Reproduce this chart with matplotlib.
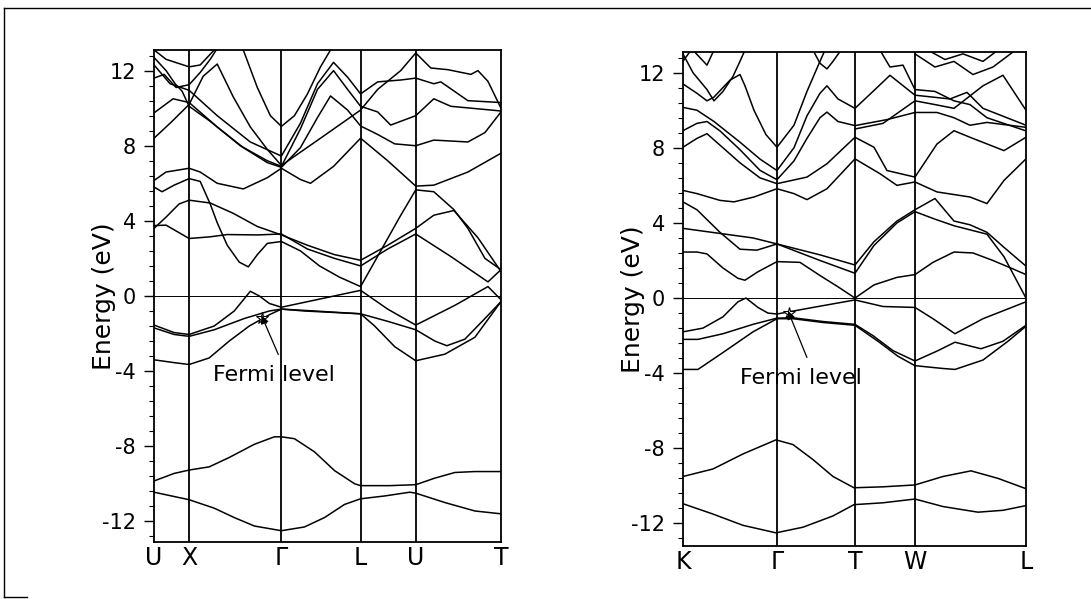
import matplotlib
matplotlib.use('Agg')
from matplotlib import pyplot as plt
from matplotlib.ticker import AutoMinorLocator
from matplotlib.lines import Line2D

plt.rcParams['font.family'] = 'DejaVu Sans'
plt.rcParams['axes.unicode_minus'] = False

# ---- left panel: path U-X-G-L-U-T (k = distance along path)
left_labels = ['U', 'X', 'Γ', 'L', 'U', 'T']
left_kpts = [0, 35, 127, 206, 261, 346]

left_core = [
    [(0, -10.45), (35, -10.85), (60, -11.3), (80, -11.8), (100, -12.25), (127, -12.5), (150, -12.3),
     (170, -11.8), (190, -11.1), (206, -10.8), (230, -10.65), (255, -10.45), (261, -10.5), (290, -11.0),
     (320, -11.45), (346, -11.6)],
    [(0, -9.85), (20, -9.45), (35, -9.27), (55, -9.1), (75, -8.6), (100, -7.9), (120, -7.5), (127, -7.5),
     (140, -7.6), (160, -8.3), (180, -9.3), (200, -10.0), (206, -10.1), (235, -10.1), (261, -10.05),
     (280, -9.7), (300, -9.4), (320, -9.35), (346, -9.35)],
]

left_valence = [
    [(0, -3.4), (20, -3.55), (35, -3.65), (55, -3.3), (75, -2.4), (95, -1.6), (115, -1.0), (127, -0.7),
     (150, -0.8), (180, -0.88), (206, -0.95), (220, -1.6), (240, -2.7), (261, -3.45), (290, -3.1),
     (320, -2.2), (346, -0.3)],
    [(0, -1.55), (20, -1.95), (35, -2.05), (60, -1.6), (80, -0.8), (96, 0.25), (105, 0.0), (115, -0.4),
     (127, -0.6), (206, 0.3), (233, -0.7), (261, -1.55), (300, -0.5), (333, 0.5), (346, -0.2)],
    [(0, -1.7), (20, -2.05), (35, -2.15), (60, -1.8), (90, -1.2), (115, -0.8), (127, -0.7), (160, -0.8),
     (206, -0.95), (233, -1.35), (261, -1.8), (280, -2.4), (292, -2.65), (310, -2.3), (330, -1.2), (346, -0.3)],
]

left_cond = [
    [(0, 5.8), (8, 5.55), (20, 5.9), (35, 6.25), (46, 6.1), (56, 4.9), (63, 3.9), (73, 2.7), (85, 1.8),
     (94, 1.55), (103, 2.2), (113, 2.8), (127, 2.9), (146, 2.4), (165, 1.6), (185, 1.0), (206, 0.5),
     (225, 2.3), (245, 4.2), (261, 5.65), (279, 5.55), (299, 4.6), (313, 3.6), (330, 2.0), (346, 1.4)],
    [(0, 3.6), (12, 4.2), (25, 4.9), (35, 5.1), (56, 4.95), (79, 4.4), (103, 3.7), (127, 3.25), (153, 2.7),
     (180, 2.2), (206, 1.9), (233, 2.7), (261, 3.6), (279, 4.3), (299, 4.55), (323, 3.1), (346, 1.3)],
    [(0, 3.75), (12, 3.77), (35, 3.06), (56, 3.15), (73, 3.27), (103, 3.25), (127, 3.3), (153, 2.5),
     (180, 2.0), (206, 1.6), (233, 2.5), (261, 3.3), (296, 2.1), (333, 0.75), (346, 1.4)],
    [(0, 6.15), (12, 6.6), (35, 6.8), (46, 6.6), (63, 6.0), (89, 5.7), (113, 6.3), (127, 6.8), (146, 6.2),
     (156, 6.0), (179, 6.9), (206, 8.4), (233, 7.2), (261, 5.85), (279, 5.9), (313, 6.6), (346, 7.6)],
    [(0, 8.4), (18, 9.3), (35, 10.2), (49, 11.7), (63, 12.35), (79, 10.6), (96, 9.0), (113, 7.8),
     (127, 6.95), (166, 8.4), (206, 9.9), (223, 11.0), (246, 12.0), (261, 12.94), (276, 12.14),
     (293, 12.05), (316, 11.8), (323, 12.0), (333, 11.43), (346, 10.0)],
    [(0, 9.75), (19, 10.5), (35, 10.3), (63, 9.0), (89, 7.9), (113, 7.1), (127, 6.85), (146, 7.9),
     (163, 9.5), (176, 10.65), (193, 9.9), (206, 9.05), (223, 8.6), (240, 8.1), (261, 8.0), (279, 8.3),
     (313, 8.2), (330, 8.7), (346, 9.8)],
    [(0, 12.3), (16, 11.3), (35, 10.95), (63, 9.6), (96, 8.2), (127, 7.45), (146, 9.2), (163, 11.3),
     (179, 12.44), (193, 11.65), (206, 10.76), (223, 11.4), (246, 11.5), (261, 11.6), (279, 11.3),
     (286, 11.4), (313, 10.4), (346, 10.3)],
    [(89, 13.1), (103, 11.1), (116, 9.6), (127, 9.03), (140, 9.6), (153, 10.76), (166, 12.2), (176, 13.1)],
    [(0, 12.7), (12, 12.0), (21, 11.3), (28, 10.9), (35, 10.1), (56, 9.3), (86, 8.0), (113, 7.2),
     (127, 6.9), (146, 8.9), (163, 11.0), (179, 12.0), (193, 11.0), (206, 10.1), (223, 9.8), (236, 9.1),
     (261, 9.6), (279, 10.5), (296, 10.1), (346, 9.85)],
    [(0, 13.1), (12, 12.6), (35, 12.2), (46, 12.3), (60, 13.1)],
    [(0, 11.6), (10, 11.8), (22, 11.1), (35, 11.25), (46, 11.9), (56, 12.6), (62, 13.1)],
]

# ---- right panel: path K-G-T-W-L
right_labels = ['K', 'Γ', 'T', 'W', 'L']
right_kpts = [0, 94, 172, 232, 343]

right_core = [
    [(0, -10.95), (30, -11.5), (60, -12.1), (93, -12.5), (120, -12.2), (150, -11.6), (171, -11.0),
     (200, -10.9), (232, -10.7), (260, -11.1), (295, -11.4), (320, -11.3), (343, -11.05)],
    [(0, -9.5), (30, -9.1), (60, -8.3), (93, -7.55), (110, -7.8), (130, -8.6), (150, -9.5), (171, -10.1),
     (200, -10.05), (232, -9.95), (260, -9.5), (288, -9.2), (315, -9.6), (343, -10.15)],
]

right_valence = [
    [(0, -1.8), (20, -1.6), (40, -1.0), (55, -0.2), (63, 0.0), (75, -0.5), (85, -0.8), (94, -0.85),
     (130, -0.5), (172, -0.1), (200, -0.45), (232, -0.5), (250, -1.1), (272, -1.9), (300, -1.1), (343, -0.2)],
    [(0, -2.2), (15, -2.2), (40, -1.9), (70, -1.4), (94, -1.07), (110, -1.05), (140, -1.25), (172, -1.4),
     (190, -2.0), (210, -2.8), (232, -3.35), (255, -2.8), (272, -2.35), (298, -2.7), (320, -2.3), (343, -1.45)],
    [(0, -3.8), (15, -3.8), (40, -2.9), (70, -1.8), (94, -1.1), (110, -1.1), (140, -1.3), (172, -1.45),
     (195, -2.3), (215, -3.1), (232, -3.6), (260, -3.75), (272, -3.8), (300, -3.3), (325, -2.3), (343, -1.5)],
]

right_cond = [
    [(0, 2.45), (14, 2.45), (24, 2.35), (40, 1.6), (55, 1.05), (62, 0.95), (75, 1.4), (94, 1.94),
     (117, 1.9), (137, 1.2), (155, 0.6), (172, 0.0), (191, 0.7), (214, 1.1), (232, 1.25), (250, 1.9),
     (271, 2.45), (290, 2.4), (310, 2.0), (330, 1.55), (343, 1.25)],
    [(0, 3.71), (37, 3.44), (70, 3.2), (94, 2.88), (137, 2.3), (172, 1.76), (191, 3.0), (214, 4.1),
     (232, 4.7), (252, 5.3), (271, 4.1), (287, 3.9), (304, 3.5), (321, 2.7), (343, 1.7)],
    [(0, 5.12), (14, 4.7), (37, 3.5), (57, 2.6), (74, 2.55), (94, 2.88), (137, 2.0), (172, 1.32),
     (191, 2.8), (214, 4.0), (232, 4.6), (252, 4.2), (271, 3.85), (304, 3.4), (321, 2.2), (343, 0.0)],
    [(0, 5.73), (14, 5.56), (37, 5.2), (51, 5.12), (71, 5.38), (94, 5.82), (111, 5.56), (124, 5.24),
     (144, 5.82), (172, 7.41), (197, 6.62), (214, 6.0), (232, 6.18), (254, 5.65), (287, 5.38),
     (304, 5.03), (321, 6.26), (343, 7.41)],
    [(0, 8.03), (14, 8.5), (24, 8.75), (40, 8.0), (57, 7.2), (77, 6.4), (94, 6.09), (124, 6.44),
     (144, 7.15), (172, 8.56), (191, 8.03), (204, 6.79), (232, 6.44), (254, 8.2), (271, 8.91),
     (287, 8.56), (321, 7.85), (343, 8.56)],
    [(0, 8.91), (14, 9.3), (24, 9.4), (37, 8.9), (57, 7.9), (77, 6.8), (94, 6.3), (111, 7.3), (124, 8.5),
     (137, 9.6), (144, 9.9), (155, 9.4), (172, 9.18), (204, 9.5), (232, 9.88), (254, 9.88), (271, 9.6),
     (287, 9.2), (304, 9.35), (343, 9.09)],
    [(0, 10.15), (14, 10.0), (31, 9.4), (57, 8.3), (77, 7.4), (94, 6.79), (111, 8.0), (124, 9.7),
     (137, 10.9), (144, 11.3), (155, 10.6), (172, 10.1), (190, 11.0), (207, 11.86), (232, 10.8),
     (267, 10.6), (284, 10.95), (300, 10.1), (343, 9.2)],
    [(0, 11.4), (14, 10.9), (24, 10.5), (31, 10.7), (47, 11.6), (57, 11.9), (62, 11.3), (71, 10.0),
     (83, 8.7), (94, 8.03), (111, 9.2), (124, 11.0), (137, 12.6), (142, 13.2)],
    [(0, 13.0), (10, 12.0), (24, 11.1), (31, 10.5), (40, 11.0), (50, 11.8), (57, 12.6), (62, 13.2)],
    [(0, 12.6), (8, 13.2)],
    [(10, 13.2), (24, 12.4), (31, 13.2)],
    [(130, 13.2), (137, 12.5), (144, 12.2), (150, 12.6), (158, 13.2)],
    [(172, 9.0), (200, 9.3), (232, 10.5), (252, 10.3), (271, 10.1), (300, 11.3), (320, 11.86), (343, 10.0)],
    [(197, 13.2), (207, 12.3), (220, 12.4), (232, 11.1), (252, 11.0), (271, 10.5), (287, 10.3),
     (304, 9.6), (343, 8.9)],
    [(232, 13.0), (252, 12.3), (271, 12.6), (290, 11.9), (310, 12.3), (330, 13.1)],
    [(245, 13.2), (262, 12.7), (280, 13.0), (300, 12.6), (315, 13.2)],
]


def draw_panel(ax, kpts, labels, bands, ylim, txt_xy, arrow_tail, arrow_head):
    for band in bands:
        ks = [p[0] for p in band]
        es = [p[1] for p in band]
        ax.plot(ks, es, color='black', lw=1.1)
    for k in kpts[1:-1]:
        ax.axvline(k, color='black', lw=1.3)
    ax.axhline(0, color='black', lw=0.7)
    ax.set_xlim(kpts[0], kpts[-1])
    ax.set_ylim(*ylim)
    ax.set_xticks(kpts)
    ax.set_xticklabels(labels, fontsize=17)
    ax.tick_params(axis='x', length=0, pad=3)
    ax.set_yticks([-12, -8, -4, 0, 4, 8, 12])
    ax.set_yticklabels(['-12', '-8', '-4', '0', '4', '8', '12'], fontsize=15)
    ax.yaxis.set_minor_locator(AutoMinorLocator(5))
    ax.tick_params(axis='y', which='major', direction='out', length=7, width=1.0, pad=6)
    ax.tick_params(axis='y', which='minor', direction='out', length=3.5, width=0.8)
    for s in ax.spines.values():
        s.set_linewidth(1.3)
    ax.set_ylabel('Energy (eV)', fontsize=18)
    ax.yaxis.set_label_coords(-0.11, 0.5)
    ax.annotate('', xy=arrow_head, xytext=arrow_tail,
                arrowprops=dict(arrowstyle='-|>', color='black', lw=0.9, mutation_scale=12))
    ax.plot([arrow_head[0] + 2], [arrow_head[1] - 0.25], marker='*', ms=9,
            markerfacecolor='white', markeredgecolor='black', mew=0.8)
    ax.text(txt_xy[0], txt_xy[1], 'Fermi level', fontsize=16, va='center', ha='left')


fig = plt.figure(figsize=(10.91, 5.99), dpi=100)
ax1 = fig.add_axes([0.1412, 0.0952, 0.318, 0.8214])
ax2 = fig.add_axes([0.626, 0.0885, 0.3144, 0.8247])

draw_panel(ax1, left_kpts, left_labels, left_core + left_valence + left_cond,
           (-13.1, 13.1), (59, -4.2), (125, -3.25), (106, -0.9))
draw_panel(ax2, right_kpts, right_labels, right_core + right_valence + right_cond,
           (-13.2, 13.1), (57, -4.25), (125, -3.3), (104, -0.55))

# outer frame of the scanned page
fig.add_artist(Line2D([0.004, 0.004], [0.003, 0.987], color='black', lw=1.0))
fig.add_artist(Line2D([0.004, 1.0], [0.987, 0.987], color='black', lw=1.0))
fig.add_artist(Line2D([0.004, 0.025], [0.003, 0.003], color='black', lw=1.0))

fig.savefig('out.png', dpi=100)
